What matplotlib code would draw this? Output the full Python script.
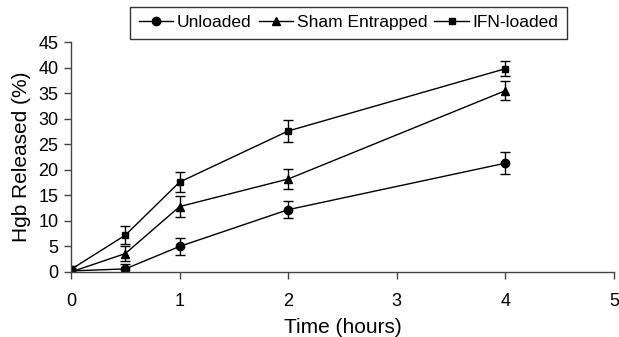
import matplotlib
matplotlib.use("Agg")
import matplotlib.pyplot as plt
from matplotlib.lines import Line2D

time = [0, 0.5, 1, 2, 4]
unloaded = [0.2, 0.6, 5.0, 12.2, 21.3]
unloaded_err = [0.6, 1.0, 1.7, 1.7, 2.2]
sham = [0.0, 3.6, 12.8, 18.2, 35.5]
sham_err = [0.5, 1.4, 2.0, 2.0, 1.8]
ifn = [0.5, 7.2, 17.6, 27.6, 39.8]
ifn_err = [0.6, 1.8, 1.9, 2.1, 1.5]
labels = ['Unloaded', 'Sham Entrapped', 'IFN-loaded']
markers = ['o', '^', 's']
msizes = [6, 5.5, 3.8]

plt.rcParams['font.family'] = ['Liberation Sans', 'DejaVu Sans']

fig = plt.figure(figsize=(6.19, 3.37), dpi=100)
ax = fig.add_axes([0.1147, 0.193, 0.8773, 0.682])

common = dict(color='black', ecolor='black', elinewidth=1.0, capsize=3.5,
              capthick=1.0, linewidth=1.0)
for ys, es, m, ms, lab in zip([unloaded, sham, ifn], [unloaded_err, sham_err, ifn_err],
                              markers, msizes, labels):
    ax.errorbar(time, ys, yerr=es, marker=m, markersize=ms, label=lab, **common)

ax.set_xlim(0, 5)
ax.set_ylim(0, 45)
ax.set_xticks([0, 1, 2, 3, 4, 5])
ax.set_yticks(range(0, 50, 5))
ax.spines['top'].set_visible(False)
ax.spines['right'].set_visible(False)
for s in ('left', 'bottom'):
    ax.spines[s].set_linewidth(1.0)
    ax.spines[s].set_color('#444444')
ax.tick_params(axis='both', labelsize=13, length=5, width=1.0, color='#444444',
               direction='out')
ax.tick_params(axis='y', pad=4)
ax.tick_params(axis='x', pad=10)
ax.set_xlabel('Time (hours)', fontsize=15, labelpad=6)
ax.set_ylabel('Hgb Released (%)', fontsize=15, labelpad=5)

handles = [Line2D([], [], color='black', linewidth=1.0, marker=m, markersize=ms)
           for m, ms in zip(markers, msizes)]
leg = fig.legend(handles, labels, loc='center', bbox_to_anchor=(0.563, 0.932), ncol=3,
                 fontsize=12.5, frameon=True, fancybox=False,
                 edgecolor='black', handlelength=2.0, handletextpad=0.2,
                 columnspacing=0.4, borderpad=0.5)
leg.get_frame().set_linewidth(1.0)

fig.savefig('out.png', dpi=100)
